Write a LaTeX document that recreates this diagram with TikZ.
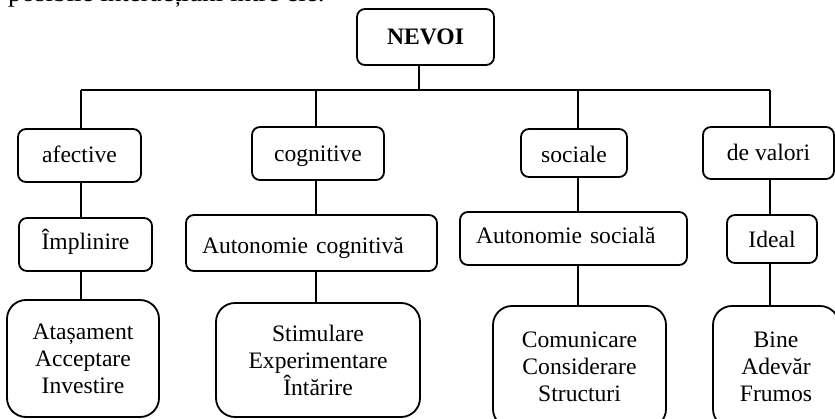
\documentclass[tikz,border=0pt]{standalone}
\usepackage{fontspec}
\setmainfont{Liberation Serif}
\begin{document}
\begin{tikzpicture}[x=1pt,y=-1pt,
  every node/.style={font=\fontsize{23.6}{27}\selectfont},
  conn/.style={line width=1.8pt},
  bl/.style={text height=#1, text depth=0pt},
  box/.style={draw, line width=1.8pt, rounded corners=8pt, inner sep=0pt, align=center},
  wide/.style={draw, line width=1.8pt, rounded corners=8pt, inner ysep=0pt, inner xsep=16pt, align=left},
  big/.style={draw, line width=1.8pt, rounded corners=19pt, inner sep=0pt, align=center}]
\useasboundingbox (0,0) rectangle (835,419);
\begin{scope}
\clip (0,0) rectangle (835,419);
% tail of the preceding paragraph, cut by the top edge
\node[anchor=base west, inner sep=0pt, font=\fontsize{27}{30}\selectfont] (para) at (8,1.5) {posibile interacțiuni între ele.};

% root
\node[box, bl=16pt, minimum width=137pt, minimum height=56pt, font=\fontsize{23.6}{27}\selectfont\bfseries] (nevoi) at (425.5,37) {NEVOI};

% first level
\node[box, bl=15pt, minimum width=123pt, minimum height=53pt] (afect) at (79.5,155.5) {afective};
\node[box, bl=17pt, minimum width=132pt, minimum height=53pt] (cogn) at (318,153.5) {cognitive};
\node[box, bl=19pt, minimum width=106pt, minimum height=48pt] (soc) at (574,153) {sociale};
\node[box, bl=16pt, minimum width=131pt, minimum height=52pt] (val) at (768.5,153) {de valori};

% second level
\node[box, bl=11pt, minimum width=133pt, minimum height=53pt] (impl) at (85.5,244.5) {Împlinire};
\node[wide, bl=22pt, text width=219pt, minimum height=56pt] (autc) at (311.5,243) {Autonomie cognitivă};
\node[wide, bl=10pt, text width=195pt, minimum height=53pt] (auts) at (573.5,238.5) {Autonomie socială};
\node[box, bl=17pt, minimum width=90pt, minimum height=48pt] (ideal) at (772,239) {Ideal};

% third level
\node[big, minimum width=152pt, minimum height=117pt] (atas) at (83,358.5) {Atașament\\Acceptare\\Investire};
\node[big, minimum width=204pt, minimum height=114pt] (stim) at (318,360) {Stimulare\\Experimentare\\Întărire};
\node[big, minimum width=173pt, minimum height=122pt] (comu) at (579.5,367) {Comunicare\\Considerare\\Structuri};
\node[big, minimum width=126pt, minimum height=122pt] (bine) at (776,367) {Bine\\Adevăr\\Frumos};

% connector columns and bus
\coordinate (root) at (419,90);
\coordinate (c1) at (81,90);
\coordinate (c2) at (316,90);
\coordinate (c3) at (578,90);
\coordinate (c4) at (770,90);

\draw[conn] (root |- nevoi.south) -- (root);
\draw[conn] (c1) -- (c4);
\draw[conn] (c1) -- (c1 |- afect.north);
\draw[conn] (c2) -- (c2 |- cogn.north);
\draw[conn] (c3) -- (c3 |- soc.north);
\draw[conn] (c4) -- (c4 |- val.north);

\draw[conn] (c1 |- afect.south) -- (c1 |- impl.north);
\draw[conn] (c2 |- cogn.south) -- (c2 |- autc.north);
\draw[conn] (c3 |- soc.south) -- (c3 |- auts.north);
\draw[conn] (c4 |- val.south) -- (c4 |- ideal.north);

\draw[conn] (c1 |- impl.south) -- (c1 |- atas.north);
\draw[conn] (c2 |- autc.south) -- (c2 |- stim.north);
\draw[conn] (c3 |- auts.south) -- (c3 |- comu.north);
\draw[conn] (c4 |- ideal.south) -- (c4 |- bine.north);
\end{scope}
\end{tikzpicture}
\end{document}
